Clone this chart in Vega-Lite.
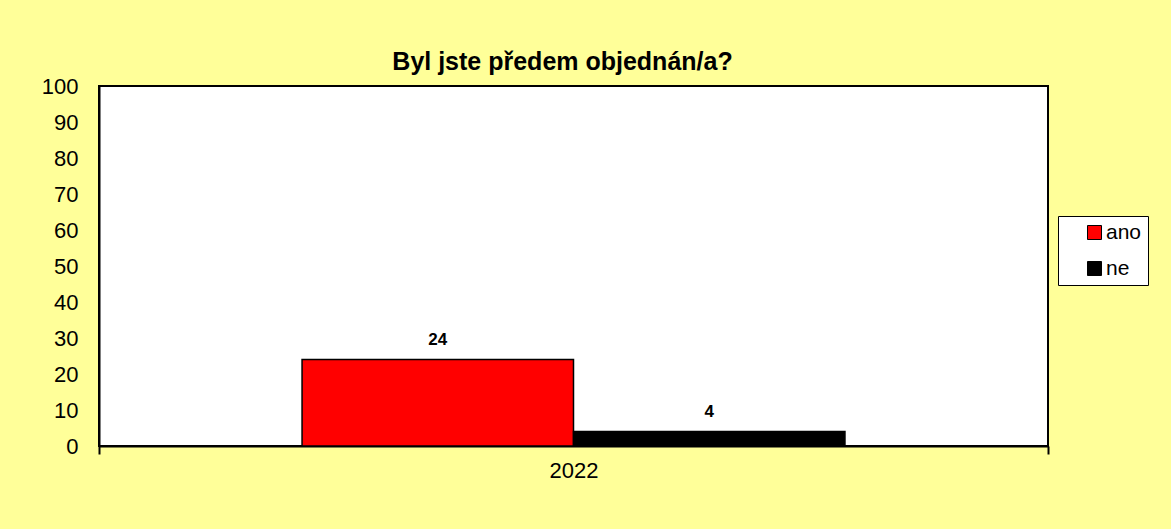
{
  "$schema": "https://vega.github.io/schema/vega-lite/v6.json",
  "autosize": {"type": "none"},
  "width": 949,
  "height": 360,
  "padding": {"left": 99, "top": 86, "right": 123, "bottom": 83},
  "background": "#FFFF99",
  "title": {
    "text": "Byl jste předem objednán/a?",
    "font": "Liberation Sans",
    "fontSize": 25,
    "fontWeight": "bold",
    "color": "black",
    "anchor": "middle",
    "dx": -11,
    "offset": 0
  },
  "config": {
    "font": "Liberation Sans",
    "view": {"stroke": "black", "strokeWidth": 2, "fill": "white"}
  },
  "data": {
    "values": [
      {"year": "2022", "series": "ano", "value": 24},
      {"year": "2022", "series": "ne", "value": 4}
    ]
  },
  "encoding": {
    "x": {
      "field": "year",
      "type": "nominal",
      "scale": {"paddingInner": 0, "paddingOuter": 0},
      "axis": {
        "title": null,
        "labelAngle": 0,
        "tickBand": "extent",
        "domainColor": "black",
        "domainWidth": 2,
        "tickColor": "black",
        "tickWidth": 2,
        "tickSize": 8,
        "labelFontSize": 22,
        "labelColor": "black",
        "labelPadding": 6
      }
    },
    "xOffset": {
      "field": "series",
      "type": "nominal",
      "scale": {"paddingInner": 0, "paddingOuter": 0.748}
    },
    "y": {
      "field": "value",
      "type": "quantitative",
      "scale": {"domain": [0, 100]},
      "axis": {
        "title": null,
        "values": [0, 10, 20, 30, 40, 50, 60, 70, 80, 90, 100],
        "ticks": false,
        "grid": false,
        "domainColor": "black",
        "domainWidth": 2,
        "labelFontSize": 22,
        "labelColor": "black",
        "labelPadding": 21
      }
    }
  },
  "layer": [
    {
      "mark": {"type": "bar", "stroke": "black", "strokeWidth": 1.5},
      "encoding": {
        "color": {
          "field": "series",
          "type": "nominal",
          "scale": {"domain": ["ano", "ne"], "range": ["#FF0000", "#000000"]},
          "legend": {
            "title": null,
            "orient": "none",
            "legendX": 959,
            "legendY": 130,
            "fillColor": "white",
            "strokeColor": "black",
            "padding": 6,
            "symbolType": "square",
            "symbolSize": 196,
            "symbolStrokeColor": "black",
            "symbolStrokeWidth": 1,
            "symbolOffset": 20,
            "labelFontSize": 21,
            "labelColor": "black",
            "labelOffset": 1,
            "rowPadding": 14
          }
        }
      }
    },
    {
      "mark": {"type": "text", "fontWeight": "bold", "fontSize": 17, "dy": -15, "baseline": "alphabetic", "color": "black"},
      "encoding": {"text": {"field": "value", "type": "quantitative"}}
    }
  ]
}
